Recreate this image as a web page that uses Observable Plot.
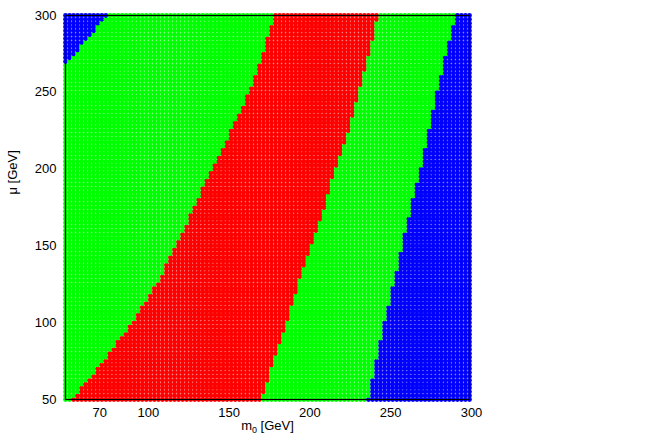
<!DOCTYPE html>
<html><head><meta charset="utf-8">
<script src="https://cdn.jsdelivr.net/npm/d3@7"></script>
<script src="https://cdn.jsdelivr.net/npm/@observablehq/plot@0.6"></script>
<style>body{margin:0;background:#fff}</style>
</head><body><div id="chart"></div>
<script>
// Axis ticks
const m0Ticks = [70, 100, 150, 200, 250, 300];
const muTicks = [50, 100, 150, 200, 250, 300];
// Scan grid (GeV)
const m0Range = [50, 300];
const muRange = [50, 300];
const scanStep = 2.5;
// Region boundaries in m0 (GeV) read at these mu values (GeV)
const boundaryMu = [50, 75, 100, 125, 150, 175, 200, 225, 250, 275, 300];
const redLeft   = [54, 74, 91, 106.5, 118.5, 129.5, 140.5, 152.5, 163.5, 172, 179.5];
const redRight  = [171.5, 178.8, 187.3, 194, 202, 210.3, 216.7, 225.3, 231.3, 238, 243.5];
const blueRight = [237, 242.5, 247.5, 253, 258.3, 263.8, 269.5, 275, 280, 285.5, 291.5];
// Top-left blue corner boundary
const cornerMu = [268, 300];
const cornerM0 = [50, 76];
// Region categories and colours
const regionNames = ["region A", "region B", "region C"];
const regionColors = ["#0000ff", "#00ff00", "#ff0000"];

function interp(xs, ys, v) {
  if (v <= xs[0]) return ys[0];
  for (let i = 1; i < xs.length; i++) {
    if (v <= xs[i]) {
      const t = (v - xs[i - 1]) / (xs[i] - xs[i - 1]);
      return ys[i - 1] + t * (ys[i] - ys[i - 1]);
    }
  }
  return ys[ys.length - 1];
}

const points = [];
const nMu = Math.round((muRange[1] - muRange[0]) / scanStep);
const nM0 = Math.round((m0Range[1] - m0Range[0]) / scanStep);
for (let j = 0; j <= nMu; j++) {
  const mu = muRange[0] + j * scanStep;
  const rl = interp(boundaryMu, redLeft, mu);
  const rr = interp(boundaryMu, redRight, mu);
  const br = interp(boundaryMu, blueRight, mu);
  const ce = mu >= cornerMu[0] ? interp(cornerMu, cornerM0, mu) : -Infinity;
  for (let i = 0; i <= nM0; i++) {
    const m0 = m0Range[0] + i * scanStep;
    let region;
    if (m0 < ce) region = regionNames[0];
    else if (m0 < rl) region = regionNames[1];
    else if (m0 < rr) region = regionNames[2];
    else if (m0 < br) region = regionNames[1];
    else region = regionNames[0];
    points.push({m0, mu, region});
  }
}

const chart = Plot.plot({
  width: 654, height: 436,
  marginLeft: 65, marginRight: 185, marginTop: 15, marginBottom: 37,
  style: {fontFamily: "'Liberation Sans', Arial, sans-serif", fontSize: "13px", background: "white", color: "black"},
  x: {domain: m0Range},
  y: {domain: muRange},
  color: {type: "ordinal", domain: regionNames, range: regionColors},
  marks: [
    Plot.dot(points, {x: "m0", y: "mu", r: 2.4, fill: "region"}),
    Plot.frame({stroke: "black", strokeWidth: 1.2}),
    Plot.axisX({ticks: m0Ticks, tickSize: 0, tickPadding: 8, label: null, dx: 2}),
    Plot.axisY({ticks: muTicks, tickSize: 0, tickPadding: 9, label: null}),
    Plot.text(["m0 [GeV]"], {frameAnchor: "bottom", dy: 30, fontSize: 13}),
    Plot.text(["μ [GeV]"], {frameAnchor: "left", rotate: -90, dx: -53, dy: -13, fontSize: 13})
  ]
});
document.getElementById("chart").appendChild(chart);

// subscript for m0
d3.select(chart).selectAll("text").each(function() {
  if (this.textContent === "m0 [GeV]") {
    const t = d3.select(this);
    t.text("");
    t.append("tspan").text("m");
    t.append("tspan").attr("dy", 3).attr("font-size", 9).text("0");
    t.append("tspan").attr("dy", -3).text(" [GeV]");
  }
});
</script>
</body></html>
